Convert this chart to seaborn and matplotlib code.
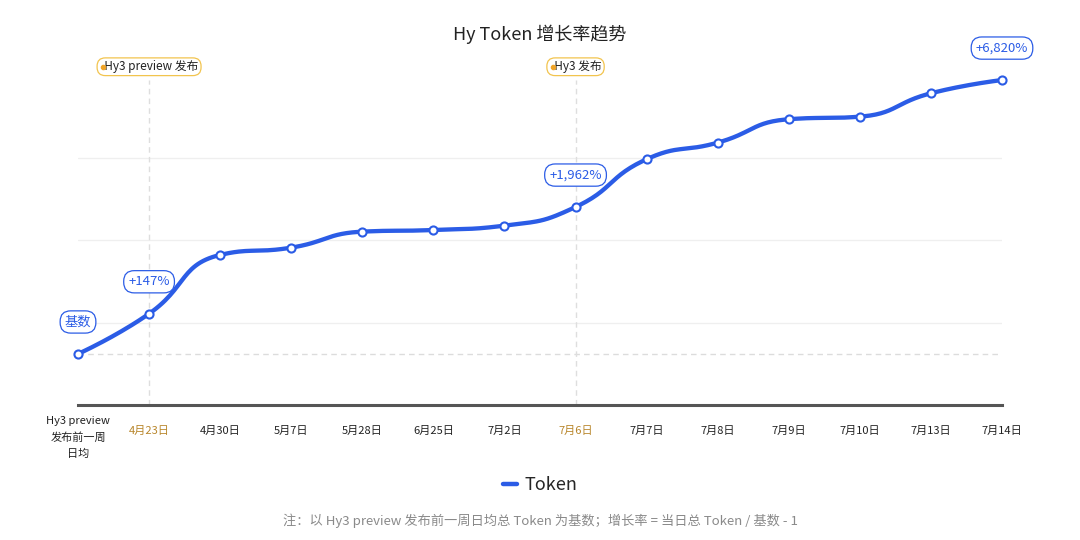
import numpy as np
import matplotlib
matplotlib.use("Agg")
import matplotlib.pyplot as plt
import matplotlib.transforms as mtransforms
from matplotlib.lines import Line2D
import seaborn as sns

# data
dates = ["Hy3 preview\n发布前一周\n日均", "4月23日", "4月30日", "5月7日", "5月28日", "6月25日",
         "7月2日", "7月6日", "7月7日", "7月8日", "7月9日", "7月10日", "7月13日", "7月14日"]
growth = [0, 147, 891, 1027, 1359, 1397, 1496, 1962, 3446, 4058, 5007, 5118, 6177, 6820]
label_idx = [0, 1, 7, 13]
label_txt = ["基数", "+147%", "+1,962%", "+6,820%"]
event_idx = [1, 7]
event_txt = ["Hy3 preview 发布", "Hy3 发布"]

BLUE = "#2B5CE6"
ORANGE = "#B8862B"

sns.set_theme(style="white")
plt.rcParams["font.family"] = ["Noto Sans CJK SC", "DejaVu Sans"]


def fwd(v):
    v = np.asarray(v, dtype=float)
    return np.sign(v) * np.sqrt(np.abs(v))


def inv(t):
    t = np.asarray(t, dtype=float)
    return np.sign(t) * t ** 2


def smooth_curve(pts, smooth=0.5, n=30):
    # bezier smoothing in pixel space, control points clamped to neighbours (no overshoot)
    N = len(pts)
    cin = pts.copy()
    cout = pts.copy()
    for i in range(1, N - 1):
        p, prev, nxt = pts[i], pts[i - 1], pts[i + 1]
        v = nxt - prev
        d0 = np.linalg.norm(p - prev)
        d1 = np.linalg.norm(nxt - p)
        r = d1 / (d0 + d1)
        c1 = p + v * smooth * r
        c1 = np.minimum(c1, np.maximum(nxt, p))
        c1 = np.maximum(c1, np.minimum(nxt, p))
        c0 = p - (c1 - p) * d0 / d1
        c0 = np.minimum(c0, np.maximum(prev, p))
        c0 = np.maximum(c0, np.minimum(prev, p))
        c1 = p - (c0 - p) * d1 / d0
        cout[i] = c1
        cin[i] = c0
    out = []
    tt = np.linspace(0, 1, n)[:, None]
    for i in range(N - 1):
        p0, p1, p2, p3 = pts[i], cout[i], cin[i + 1], pts[i + 1]
        seg = ((1 - tt) ** 3) * p0 + 3 * ((1 - tt) ** 2) * tt * p1 + 3 * (1 - tt) * tt ** 2 * p2 + tt ** 3 * p3
        out.append(seg if i == 0 else seg[1:])
    return np.vstack(out)


fig = plt.figure(figsize=(10.8, 5.4), dpi=100)
ax = fig.add_axes([78 / 1080, 0.25, 924 / 1080, 330 / 540])
ax.set_yscale("function", functions=(fwd, inv))
t_lo, t_hi = -15.4, 84.1
ax.set_ylim(inv(t_lo), inv(t_hi))
x = np.arange(len(dates))
ax.set_xlim(0, len(dates) - 1)

# grid
for t in np.linspace(t_lo, t_hi, 5)[1:4]:
    ax.axhline(inv(t), color="#efefef", lw=0.9, zorder=0)
ax.axhline(0, color="#dcdcdc", lw=1.0, ls=(0, (4, 3)), zorder=0)
for i in event_idx:
    ax.axvline(i, ymin=0, ymax=0.985, color="#dedede", lw=1.0, ls=(0, (4, 3)), zorder=0)

# smooth line
fig.canvas.draw()
pix = ax.transData.transform(np.column_stack([x, growth]))
curve = ax.transData.inverted().transform(smooth_curve(pix))
ax.plot(curve[:, 0], curve[:, 1], color=BLUE, lw=3.1, solid_capstyle="round", zorder=3)
sns.scatterplot(x=x, y=growth, ax=ax, s=34, color="white", edgecolor=BLUE, linewidth=1.5,
                zorder=4, clip_on=False, legend=False)

# value labels
for i, txt in zip(label_idx, label_txt):
    ax.annotate(txt, (x[i], growth[i]), xytext=(0, 23), textcoords="offset points",
                ha="center", va="center", fontsize=9.5, color=BLUE, zorder=5,
                bbox=dict(boxstyle="round,pad=0.35,rounding_size=0.8", fc="white", ec=BLUE, lw=0.9))

# event labels
xtr = ax.get_xaxis_transform()
for i, txt in zip(event_idx, event_txt):
    tobj = ax.text(x[i], 1.025, "  " + txt, transform=xtr, ha="center", va="center", fontsize=8.5,
                   color="#222222", zorder=5,
                   bbox=dict(boxstyle="round,pad=0.2,rounding_size=0.7", fc="white", ec="#F2C44E", lw=0.9))
    fig.canvas.draw()
    bb = tobj.get_window_extent()
    px, py = fig.transFigure.inverted().transform((bb.x0 + 4, (bb.y0 + bb.y1) / 2))
    fig.add_artist(Line2D([px], [py], marker="o", ms=3, color="#F0A52A", transform=fig.transFigure))

# axes styling
for s in ["top", "right", "left"]:
    ax.spines[s].set_visible(False)
ax.spines["bottom"].set_color("#555555")
ax.spines["bottom"].set_linewidth(2.2)
ax.set_yticks([])
ax.set_xticks(x)
ax.set_xticklabels(dates, fontsize=8, color="#222222", linespacing=1.75)
ax.tick_params(axis="x", length=0, pad=15)
for i, lab in enumerate(ax.get_xticklabels()):
    lab.set_va("top")
    if i in event_idx:
        lab.set_color(ORANGE)
    if i == 0:
        lab.set_transform(lab.get_transform() + mtransforms.ScaledTranslation(0, 10 / 100, fig.dpi_scale_trans))
ax.set_xlabel("")
ax.set_ylabel("")

fig.text(0.5, 1 - 34 / 540, "Hy Token 增长率趋势", ha="center", va="center", fontsize=13, color="#222222")

handle = Line2D([], [], color=BLUE, lw=3.2, solid_capstyle="round")
fig.legend([handle], ["Token"], loc="center", bbox_to_anchor=(0.5, 1 - 485 / 540), frameon=False,
           fontsize=13, handlelength=0.8, handletextpad=0.4)

fig.text(0.5, 1 - 521 / 540, "注：以 Hy3 preview 发布前一周日均总 Token 为基数；增长率 = 当日总 Token / 基数 - 1",
         ha="center", va="center", fontsize=9.5, color="#8a8a8a")

fig.savefig("out.png", dpi=100, facecolor="white")
